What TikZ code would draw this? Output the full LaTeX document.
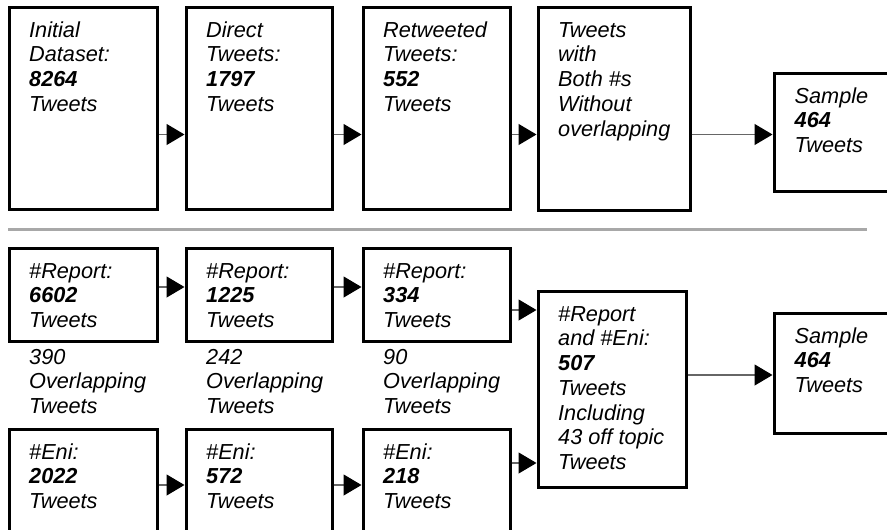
\documentclass[tikz,border=0pt]{standalone}
\usepackage{fontspec}
\setmainfont{Liberation Sans}
\usetikzlibrary{arrows.meta}
\definecolor{linegray}{HTML}{666666}
\definecolor{sepgray}{HTML}{A8A8A8}
\tikzset{
  box/.style={draw=black, line width=3pt, inner sep=0pt},
  txt/.style={anchor=north west, inner sep=0pt, align=left, font=\fontsize{21.7}{24.7}\selectfont\itshape},
  conn/.style={draw=linegray, line width=1.2pt, -{Triangle[length=18pt,width=21pt,color=black]}},
  sepline/.style={draw=sepgray, line width=3pt},
}
\newcommand{\firststrut}{\rule{0pt}{16pt}}
\begin{document}
\begin{tikzpicture}[x=1pt,y=-1pt]
\useasboundingbox (0,0) rectangle (887,530);
\clip (0,0) rectangle (887,530);
% top row
\node[box, minimum width=148pt, minimum height=202pt] (B1) at (83.5,108) {};
\node[box, minimum width=146pt, minimum height=202pt] (B2) at (259,108) {};
\node[box, minimum width=147pt, minimum height=202pt] (B3) at (436.5,108) {};
\node[box, minimum width=152pt, minimum height=203pt] (B4) at (614,108.5) {};
\node[box, minimum width=131pt, minimum height=118pt] (B5) at (839.5,132) {};
\node[txt] (tB1) at ([xshift=21pt,yshift=-15.5pt]B1.north west) {\firststrut Initial\\Dataset:\\\textbf{8264}\\Tweets};
\node[txt] (tB2) at ([xshift=21.5pt,yshift=-15.5pt]B2.north west) {\firststrut Direct\\Tweets:\\\textbf{1797}\\Tweets};
\node[txt] (tB3) at ([xshift=21.5pt,yshift=-15.5pt]B3.north west) {\firststrut Retweeted\\Tweets:\\\textbf{552}\\Tweets};
\node[txt] (tB4) at ([xshift=21.5pt,yshift=-15.5pt]B4.north west) {\firststrut Tweets\\with\\Both \#s\\Without\\overlapping};
\node[txt] (tB5) at ([xshift=22pt,yshift=-15.5pt]B5.north west) {\firststrut Sample\\\textbf{464}\\Tweets};
\coordinate (ya) at (0,134.5);
\draw[conn] (B1.east |- ya) -- (B2.west |- ya);
\draw[conn] (B2.east |- ya) -- (B3.west |- ya);
\draw[conn] (B3.east |- ya) -- (B4.west |- ya);
\draw[conn] (B4.east |- ya) -- (B5.west |- ya);
% separator
\coordinate (sepL) at (8,229.5);
\coordinate (sepR) at (867,229.5);
\draw[sepline] (sepL) -- (sepR);
% bottom: report row
\node[box, minimum width=148pt, minimum height=93pt] (R1) at (83.5,294.5) {};
\node[box, minimum width=146pt, minimum height=93pt] (R2) at (259,294.5) {};
\node[box, minimum width=147pt, minimum height=93pt] (R3) at (436.5,294.5) {};
\node[txt] (tR1) at ([xshift=21pt,yshift=-15.5pt]R1.north west) {\firststrut \#Report:\\\textbf{6602}\\Tweets};
\node[txt] (tR2) at ([xshift=21.5pt,yshift=-15.5pt]R2.north west) {\firststrut \#Report:\\\textbf{1225}\\Tweets};
\node[txt] (tR3) at ([xshift=21.5pt,yshift=-15.5pt]R3.north west) {\firststrut \#Report:\\\textbf{334}\\Tweets};
% overlap labels
\node[txt] (o1) at ([xshift=21pt,yshift=-5.5pt]R1.south west) {\firststrut 390\\Overlapping\\Tweets};
\node[txt] (o2) at ([xshift=21.5pt,yshift=-5.5pt]R2.south west) {\firststrut 242\\Overlapping\\Tweets};
\node[txt] (o3) at ([xshift=21.5pt,yshift=-5.5pt]R3.south west) {\firststrut 90\\Overlapping\\Tweets};
% eni row
\node[box, minimum width=148pt, minimum height=141pt] (E1) at (83.5,499.5) {};
\node[box, minimum width=146pt, minimum height=141pt] (E2) at (259,499.5) {};
\node[box, minimum width=147pt, minimum height=141pt] (E3) at (436.5,499.5) {};
\node[txt] (tE1) at ([xshift=21pt,yshift=-15.5pt]E1.north west) {\firststrut \#Eni:\\\textbf{2022}\\Tweets};
\node[txt] (tE2) at ([xshift=21.5pt,yshift=-15.5pt]E2.north west) {\firststrut \#Eni:\\\textbf{572}\\Tweets};
\node[txt] (tE3) at ([xshift=21.5pt,yshift=-15.5pt]E3.north west) {\firststrut \#Eni:\\\textbf{218}\\Tweets};
% combined and sample
\node[box, minimum width=148pt, minimum height=196pt] (C) at (612,389) {};
\node[txt] (tC) at ([xshift=21.5pt,yshift=-15.5pt]C.north west) {\firststrut \#Report\\and \#Eni:\\\textbf{507}\\Tweets\\Including\\43 off topic\\Tweets};
\node[box, minimum width=131pt, minimum height=120pt] (S2) at (839.5,373) {};
\node[txt] (tS2) at ([xshift=22pt,yshift=-15.5pt]S2.north west) {\firststrut Sample\\\textbf{464}\\Tweets};
% connectors
\coordinate (yr) at (0,287);
\coordinate (yrc) at (0,310);
\coordinate (ye) at (0,485);
\coordinate (yec) at (0,463);
\coordinate (ys) at (0,375);
\draw[conn] (R1.east |- yr) -- (R2.west |- yr);
\draw[conn] (R2.east |- yr) -- (R3.west |- yr);
\draw[conn] (R3.east |- yrc) -- (C.west |- yrc);
\draw[conn] (E1.east |- ye) -- (E2.west |- ye);
\draw[conn] (E2.east |- ye) -- (E3.west |- ye);
\draw[conn] (E3.east |- yec) -- (C.west |- yec);
\draw[conn] (C.east |- ys) -- (S2.west |- ys);
\end{tikzpicture}
\end{document}
